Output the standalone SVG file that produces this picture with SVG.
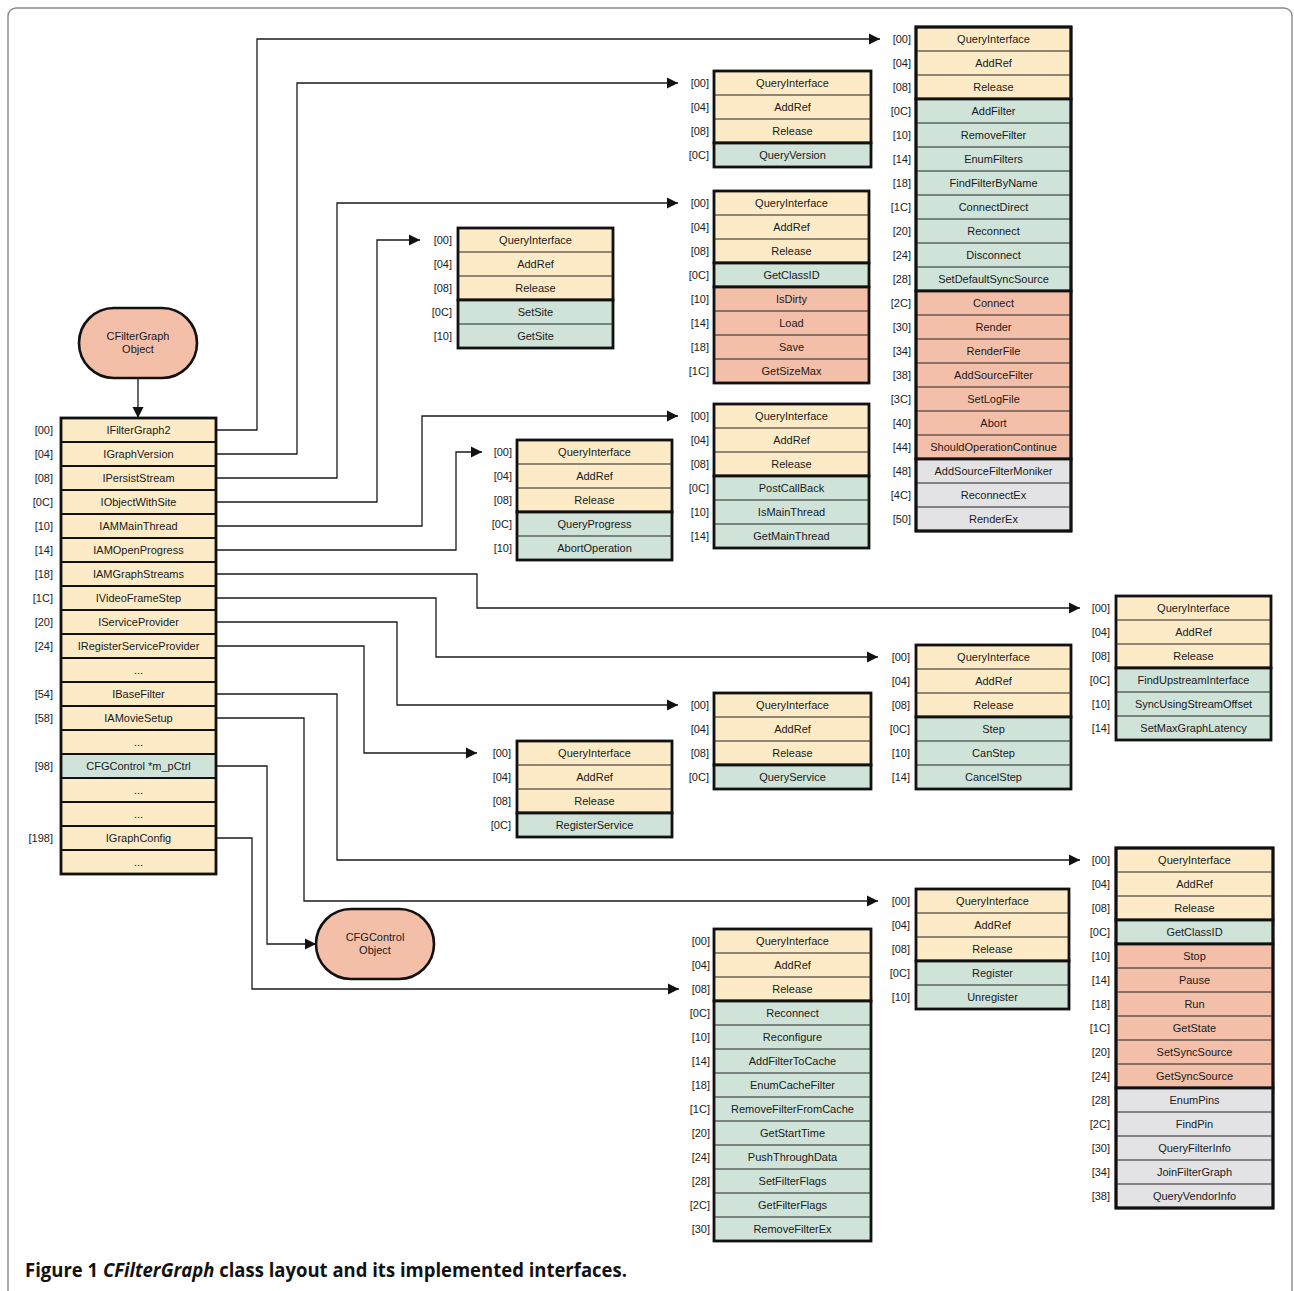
<svg xmlns="http://www.w3.org/2000/svg" width="1294" height="1291" viewBox="0 0 1294 1291">
<style>
.y{fill:#FCEBC6}.t{fill:#CFE3D9}.s{fill:#F4BFA9}.g{fill:#E3E3E5}
.grp{stroke:#111;stroke-width:2.8}
.sep{fill:none;stroke:#222;stroke-width:1.1}
.m{font-family:"Liberation Sans",Arial,sans-serif;font-size:11px;fill:#1a1a1a;text-anchor:middle}
.o{font-family:"Liberation Sans",Arial,sans-serif;font-size:11px;fill:#1a1a1a;text-anchor:end}
.wire{fill:none;stroke:#1a1a1a;stroke-width:1.3}
.obj{fill:#F4BFA9;stroke:#111;stroke-width:2.6}
.cell{stroke:#111;stroke-width:2}
</style>
<defs>
<marker id="arr" viewBox="0 0 10 10" refX="10" refY="5" markerWidth="11" markerHeight="12" markerUnits="userSpaceOnUse" orient="auto">
<path d="M0,0L10,5L0,10z" fill="#111"/>
</marker>
</defs>
<rect x="8" y="8" width="1284" height="1320" rx="8" fill="#fff" stroke="#888" stroke-width="1.4"/>

<!-- connectors from the object layout to the interface vtables -->
<g id="connectors">
<path class="wire" marker-end="url(#arr)" d="M216 430H257V39H880"/>
<path class="wire" marker-end="url(#arr)" d="M216 454H297V83H678"/>
<path class="wire" marker-end="url(#arr)" d="M216 478H337V203H678"/>
<path class="wire" marker-end="url(#arr)" d="M216 502H377V240H420"/>
<path class="wire" marker-end="url(#arr)" d="M216 526H422V416H678"/>
<path class="wire" marker-end="url(#arr)" d="M216 550H456V452H482"/>
<path class="wire" marker-end="url(#arr)" d="M216 574H477V608H1080"/>
<path class="wire" marker-end="url(#arr)" d="M216 598H436V657H878"/>
<path class="wire" marker-end="url(#arr)" d="M216 622H397V705H678"/>
<path class="wire" marker-end="url(#arr)" d="M216 646H364V753H477"/>
<path class="wire" marker-end="url(#arr)" d="M216 694H337V860H1080"/>
<path class="wire" marker-end="url(#arr)" d="M216 718H304V901H878"/>
<path class="wire" marker-end="url(#arr)" d="M216 766H267V944H316"/>
<path class="wire" marker-end="url(#arr)" d="M216 838H252V989H679"/>
<path class="wire" marker-end="url(#arr)" d="M138 378V418"/>
</g>

<g id="cfiltergraph-object">
<rect class="obj" x="79" y="308" width="118" height="70" rx="35"/>
<text class="m" x="138" y="340">CFilterGraph</text>
<text class="m" x="138" y="353">Object</text>
</g>

<g id="cfgcontrol-object">
<rect class="obj" x="316" y="909" width="118" height="70" rx="35"/>
<text class="m" x="375" y="941">CFGControl</text>
<text class="m" x="375" y="954">Object</text>
</g>

<!-- CFilterGraph object layout -->
<g id="cfiltergraph-layout">
<rect class="y cell" x="61" y="418" width="155" height="24"/>
<rect class="y cell" x="61" y="442" width="155" height="24"/>
<rect class="y cell" x="61" y="466" width="155" height="24"/>
<rect class="y cell" x="61" y="490" width="155" height="24"/>
<rect class="y cell" x="61" y="514" width="155" height="24"/>
<rect class="y cell" x="61" y="538" width="155" height="24"/>
<rect class="y cell" x="61" y="562" width="155" height="24"/>
<rect class="y cell" x="61" y="586" width="155" height="24"/>
<rect class="y cell" x="61" y="610" width="155" height="24"/>
<rect class="y cell" x="61" y="634" width="155" height="24"/>
<rect class="y cell" x="61" y="658" width="155" height="24"/>
<rect class="y cell" x="61" y="682" width="155" height="24"/>
<rect class="y cell" x="61" y="706" width="155" height="24"/>
<rect class="y cell" x="61" y="730" width="155" height="24"/>
<rect class="t cell" x="61" y="754" width="155" height="24"/>
<rect class="y cell" x="61" y="778" width="155" height="24"/>
<rect class="y cell" x="61" y="802" width="155" height="24"/>
<rect class="y cell" x="61" y="826" width="155" height="24"/>
<rect class="y cell" x="61" y="850" width="155" height="24"/>
<rect class="grp" fill="none" x="61" y="418" width="155" height="456"/>
<text class="m" x="138.5" y="434">IFilterGraph2</text>
<text class="m" x="138.5" y="458">IGraphVersion</text>
<text class="m" x="138.5" y="482">IPersistStream</text>
<text class="m" x="138.5" y="506">IObjectWithSite</text>
<text class="m" x="138.5" y="530">IAMMainThread</text>
<text class="m" x="138.5" y="554">IAMOpenProgress</text>
<text class="m" x="138.5" y="578">IAMGraphStreams</text>
<text class="m" x="138.5" y="602">IVideoFrameStep</text>
<text class="m" x="138.5" y="626">IServiceProvider</text>
<text class="m" x="138.5" y="650">IRegisterServiceProvider</text>
<text class="m" x="138.5" y="674">...</text>
<text class="m" x="138.5" y="698">IBaseFilter</text>
<text class="m" x="138.5" y="722">IAMovieSetup</text>
<text class="m" x="138.5" y="746">...</text>
<text class="m" x="138.5" y="770">CFGControl *m_pCtrl</text>
<text class="m" x="138.5" y="794">...</text>
<text class="m" x="138.5" y="818">...</text>
<text class="m" x="138.5" y="842">IGraphConfig</text>
<text class="m" x="138.5" y="866">...</text>
<text class="o" x="53" y="434">[00]</text>
<text class="o" x="53" y="458">[04]</text>
<text class="o" x="53" y="482">[08]</text>
<text class="o" x="53" y="506">[0C]</text>
<text class="o" x="53" y="530">[10]</text>
<text class="o" x="53" y="554">[14]</text>
<text class="o" x="53" y="578">[18]</text>
<text class="o" x="53" y="602">[1C]</text>
<text class="o" x="53" y="626">[20]</text>
<text class="o" x="53" y="650">[24]</text>
<text class="o" x="53" y="698">[54]</text>
<text class="o" x="53" y="722">[58]</text>
<text class="o" x="53" y="770">[98]</text>
<text class="o" x="53" y="842">[198]</text>
</g>

<!-- IFilterGraph2 vtable -->
<g id="ifiltergraph2">
<rect class="y grp" x="916" y="27" width="155" height="72"/>
<rect class="t grp" x="916" y="99" width="155" height="192"/>
<rect class="s grp" x="916" y="291" width="155" height="168"/>
<rect class="g grp" x="916" y="459" width="155" height="72"/>
<path class="sep" d="M916 51h155M916 75h155M916 123h155M916 147h155M916 171h155M916 195h155M916 219h155M916 243h155M916 267h155M916 315h155M916 339h155M916 363h155M916 387h155M916 411h155M916 435h155M916 483h155M916 507h155"/>
<rect class="grp" fill="none" x="916" y="27" width="155" height="504"/>
<text class="m" x="993.5" y="43">QueryInterface</text>
<text class="m" x="993.5" y="67">AddRef</text>
<text class="m" x="993.5" y="91">Release</text>
<text class="m" x="993.5" y="115">AddFilter</text>
<text class="m" x="993.5" y="139">RemoveFilter</text>
<text class="m" x="993.5" y="163">EnumFilters</text>
<text class="m" x="993.5" y="187">FindFilterByName</text>
<text class="m" x="993.5" y="211">ConnectDirect</text>
<text class="m" x="993.5" y="235">Reconnect</text>
<text class="m" x="993.5" y="259">Disconnect</text>
<text class="m" x="993.5" y="283">SetDefaultSyncSource</text>
<text class="m" x="993.5" y="307">Connect</text>
<text class="m" x="993.5" y="331">Render</text>
<text class="m" x="993.5" y="355">RenderFile</text>
<text class="m" x="993.5" y="379">AddSourceFilter</text>
<text class="m" x="993.5" y="403">SetLogFile</text>
<text class="m" x="993.5" y="427">Abort</text>
<text class="m" x="993.5" y="451">ShouldOperationContinue</text>
<text class="m" x="993.5" y="475">AddSourceFilterMoniker</text>
<text class="m" x="993.5" y="499">ReconnectEx</text>
<text class="m" x="993.5" y="523">RenderEx</text>
<text class="o" x="911" y="43">[00]</text>
<text class="o" x="911" y="67">[04]</text>
<text class="o" x="911" y="91">[08]</text>
<text class="o" x="911" y="115">[0C]</text>
<text class="o" x="911" y="139">[10]</text>
<text class="o" x="911" y="163">[14]</text>
<text class="o" x="911" y="187">[18]</text>
<text class="o" x="911" y="211">[1C]</text>
<text class="o" x="911" y="235">[20]</text>
<text class="o" x="911" y="259">[24]</text>
<text class="o" x="911" y="283">[28]</text>
<text class="o" x="911" y="307">[2C]</text>
<text class="o" x="911" y="331">[30]</text>
<text class="o" x="911" y="355">[34]</text>
<text class="o" x="911" y="379">[38]</text>
<text class="o" x="911" y="403">[3C]</text>
<text class="o" x="911" y="427">[40]</text>
<text class="o" x="911" y="451">[44]</text>
<text class="o" x="911" y="475">[48]</text>
<text class="o" x="911" y="499">[4C]</text>
<text class="o" x="911" y="523">[50]</text>
</g>

<!-- IGraphVersion vtable -->
<g id="igraphversion">
<rect class="y grp" x="714" y="71" width="157" height="72"/>
<rect class="t grp" x="714" y="143" width="157" height="24"/>
<path class="sep" d="M714 95h157M714 119h157"/>
<text class="m" x="792.5" y="87">QueryInterface</text>
<text class="m" x="792.5" y="111">AddRef</text>
<text class="m" x="792.5" y="135">Release</text>
<text class="m" x="792.5" y="159">QueryVersion</text>
<text class="o" x="709" y="87">[00]</text>
<text class="o" x="709" y="111">[04]</text>
<text class="o" x="709" y="135">[08]</text>
<text class="o" x="709" y="159">[0C]</text>
</g>

<!-- IPersistStream vtable -->
<g id="ipersiststream">
<rect class="y grp" x="714" y="191" width="155" height="72"/>
<rect class="t grp" x="714" y="263" width="155" height="24"/>
<rect class="s grp" x="714" y="287" width="155" height="96"/>
<path class="sep" d="M714 215h155M714 239h155M714 311h155M714 335h155M714 359h155"/>
<text class="m" x="791.5" y="207">QueryInterface</text>
<text class="m" x="791.5" y="231">AddRef</text>
<text class="m" x="791.5" y="255">Release</text>
<text class="m" x="791.5" y="279">GetClassID</text>
<text class="m" x="791.5" y="303">IsDirty</text>
<text class="m" x="791.5" y="327">Load</text>
<text class="m" x="791.5" y="351">Save</text>
<text class="m" x="791.5" y="375">GetSizeMax</text>
<text class="o" x="709" y="207">[00]</text>
<text class="o" x="709" y="231">[04]</text>
<text class="o" x="709" y="255">[08]</text>
<text class="o" x="709" y="279">[0C]</text>
<text class="o" x="709" y="303">[10]</text>
<text class="o" x="709" y="327">[14]</text>
<text class="o" x="709" y="351">[18]</text>
<text class="o" x="709" y="375">[1C]</text>
</g>

<!-- IObjectWithSite vtable -->
<g id="iobjectwithsite">
<rect class="y grp" x="458" y="228" width="155" height="72"/>
<rect class="t grp" x="458" y="300" width="155" height="48"/>
<path class="sep" d="M458 252h155M458 276h155M458 324h155"/>
<text class="m" x="535.5" y="244">QueryInterface</text>
<text class="m" x="535.5" y="268">AddRef</text>
<text class="m" x="535.5" y="292">Release</text>
<text class="m" x="535.5" y="316">SetSite</text>
<text class="m" x="535.5" y="340">GetSite</text>
<text class="o" x="452" y="244">[00]</text>
<text class="o" x="452" y="268">[04]</text>
<text class="o" x="452" y="292">[08]</text>
<text class="o" x="452" y="316">[0C]</text>
<text class="o" x="452" y="340">[10]</text>
</g>

<!-- IAMMainThread vtable -->
<g id="iammainthread">
<rect class="y grp" x="714" y="404" width="155" height="72"/>
<rect class="t grp" x="714" y="476" width="155" height="72"/>
<path class="sep" d="M714 428h155M714 452h155M714 500h155M714 524h155"/>
<text class="m" x="791.5" y="420">QueryInterface</text>
<text class="m" x="791.5" y="444">AddRef</text>
<text class="m" x="791.5" y="468">Release</text>
<text class="m" x="791.5" y="492">PostCallBack</text>
<text class="m" x="791.5" y="516">IsMainThread</text>
<text class="m" x="791.5" y="540">GetMainThread</text>
<text class="o" x="709" y="420">[00]</text>
<text class="o" x="709" y="444">[04]</text>
<text class="o" x="709" y="468">[08]</text>
<text class="o" x="709" y="492">[0C]</text>
<text class="o" x="709" y="516">[10]</text>
<text class="o" x="709" y="540">[14]</text>
</g>

<!-- IAMOpenProgress vtable -->
<g id="iamopenprogress">
<rect class="y grp" x="517" y="440" width="155" height="72"/>
<rect class="t grp" x="517" y="512" width="155" height="48"/>
<path class="sep" d="M517 464h155M517 488h155M517 536h155"/>
<text class="m" x="594.5" y="456">QueryInterface</text>
<text class="m" x="594.5" y="480">AddRef</text>
<text class="m" x="594.5" y="504">Release</text>
<text class="m" x="594.5" y="528">QueryProgress</text>
<text class="m" x="594.5" y="552">AbortOperation</text>
<text class="o" x="512" y="456">[00]</text>
<text class="o" x="512" y="480">[04]</text>
<text class="o" x="512" y="504">[08]</text>
<text class="o" x="512" y="528">[0C]</text>
<text class="o" x="512" y="552">[10]</text>
</g>

<!-- IAMGraphStreams vtable -->
<g id="iamgraphstreams">
<rect class="y grp" x="1116" y="596" width="155" height="72"/>
<rect class="t grp" x="1116" y="668" width="155" height="72"/>
<path class="sep" d="M1116 620h155M1116 644h155M1116 692h155M1116 716h155"/>
<text class="m" x="1193.5" y="612">QueryInterface</text>
<text class="m" x="1193.5" y="636">AddRef</text>
<text class="m" x="1193.5" y="660">Release</text>
<text class="m" x="1193.5" y="684">FindUpstreamInterface</text>
<text class="m" x="1193.5" y="708">SyncUsingStreamOffset</text>
<text class="m" x="1193.5" y="732">SetMaxGraphLatency</text>
<text class="o" x="1110" y="612">[00]</text>
<text class="o" x="1110" y="636">[04]</text>
<text class="o" x="1110" y="660">[08]</text>
<text class="o" x="1110" y="684">[0C]</text>
<text class="o" x="1110" y="708">[10]</text>
<text class="o" x="1110" y="732">[14]</text>
</g>

<!-- IVideoFrameStep vtable -->
<g id="ivideoframestep">
<rect class="y grp" x="916" y="645" width="155" height="72"/>
<rect class="t grp" x="916" y="717" width="155" height="72"/>
<path class="sep" d="M916 669h155M916 693h155M916 741h155M916 765h155"/>
<text class="m" x="993.5" y="661">QueryInterface</text>
<text class="m" x="993.5" y="685">AddRef</text>
<text class="m" x="993.5" y="709">Release</text>
<text class="m" x="993.5" y="733">Step</text>
<text class="m" x="993.5" y="757">CanStep</text>
<text class="m" x="993.5" y="781">CancelStep</text>
<text class="o" x="910" y="661">[00]</text>
<text class="o" x="910" y="685">[04]</text>
<text class="o" x="910" y="709">[08]</text>
<text class="o" x="910" y="733">[0C]</text>
<text class="o" x="910" y="757">[10]</text>
<text class="o" x="910" y="781">[14]</text>
</g>

<!-- IServiceProvider vtable -->
<g id="iserviceprovider">
<rect class="y grp" x="714" y="693" width="157" height="72"/>
<rect class="t grp" x="714" y="765" width="157" height="24"/>
<path class="sep" d="M714 717h157M714 741h157"/>
<text class="m" x="792.5" y="709">QueryInterface</text>
<text class="m" x="792.5" y="733">AddRef</text>
<text class="m" x="792.5" y="757">Release</text>
<text class="m" x="792.5" y="781">QueryService</text>
<text class="o" x="709" y="709">[00]</text>
<text class="o" x="709" y="733">[04]</text>
<text class="o" x="709" y="757">[08]</text>
<text class="o" x="709" y="781">[0C]</text>
</g>

<!-- IRegisterServiceProvider vtable -->
<g id="iregisterserviceprovider">
<rect class="y grp" x="517" y="741" width="155" height="72"/>
<rect class="t grp" x="517" y="813" width="155" height="24"/>
<path class="sep" d="M517 765h155M517 789h155"/>
<text class="m" x="594.5" y="757">QueryInterface</text>
<text class="m" x="594.5" y="781">AddRef</text>
<text class="m" x="594.5" y="805">Release</text>
<text class="m" x="594.5" y="829">RegisterService</text>
<text class="o" x="511" y="757">[00]</text>
<text class="o" x="511" y="781">[04]</text>
<text class="o" x="511" y="805">[08]</text>
<text class="o" x="511" y="829">[0C]</text>
</g>

<!-- IBaseFilter vtable -->
<g id="ibasefilter">
<rect class="y grp" x="1116" y="848" width="157" height="72"/>
<rect class="t grp" x="1116" y="920" width="157" height="24"/>
<rect class="s grp" x="1116" y="944" width="157" height="144"/>
<rect class="g grp" x="1116" y="1088" width="157" height="120"/>
<path class="sep" d="M1116 872h157M1116 896h157M1116 968h157M1116 992h157M1116 1016h157M1116 1040h157M1116 1064h157M1116 1112h157M1116 1136h157M1116 1160h157M1116 1184h157"/>
<rect class="grp" fill="none" x="1116" y="848" width="157" height="360"/>
<text class="m" x="1194.5" y="864">QueryInterface</text>
<text class="m" x="1194.5" y="888">AddRef</text>
<text class="m" x="1194.5" y="912">Release</text>
<text class="m" x="1194.5" y="936">GetClassID</text>
<text class="m" x="1194.5" y="960">Stop</text>
<text class="m" x="1194.5" y="984">Pause</text>
<text class="m" x="1194.5" y="1008">Run</text>
<text class="m" x="1194.5" y="1032">GetState</text>
<text class="m" x="1194.5" y="1056">SetSyncSource</text>
<text class="m" x="1194.5" y="1080">GetSyncSource</text>
<text class="m" x="1194.5" y="1104">EnumPins</text>
<text class="m" x="1194.5" y="1128">FindPin</text>
<text class="m" x="1194.5" y="1152">QueryFilterInfo</text>
<text class="m" x="1194.5" y="1176">JoinFilterGraph</text>
<text class="m" x="1194.5" y="1200">QueryVendorInfo</text>
<text class="o" x="1110" y="864">[00]</text>
<text class="o" x="1110" y="888">[04]</text>
<text class="o" x="1110" y="912">[08]</text>
<text class="o" x="1110" y="936">[0C]</text>
<text class="o" x="1110" y="960">[10]</text>
<text class="o" x="1110" y="984">[14]</text>
<text class="o" x="1110" y="1008">[18]</text>
<text class="o" x="1110" y="1032">[1C]</text>
<text class="o" x="1110" y="1056">[20]</text>
<text class="o" x="1110" y="1080">[24]</text>
<text class="o" x="1110" y="1104">[28]</text>
<text class="o" x="1110" y="1128">[2C]</text>
<text class="o" x="1110" y="1152">[30]</text>
<text class="o" x="1110" y="1176">[34]</text>
<text class="o" x="1110" y="1200">[38]</text>
</g>

<!-- IAMovieSetup vtable -->
<g id="iamoviesetup">
<rect class="y grp" x="916" y="889" width="153" height="72"/>
<rect class="t grp" x="916" y="961" width="153" height="48"/>
<path class="sep" d="M916 913h153M916 937h153M916 985h153"/>
<text class="m" x="992.5" y="905">QueryInterface</text>
<text class="m" x="992.5" y="929">AddRef</text>
<text class="m" x="992.5" y="953">Release</text>
<text class="m" x="992.5" y="977">Register</text>
<text class="m" x="992.5" y="1001">Unregister</text>
<text class="o" x="910" y="905">[00]</text>
<text class="o" x="910" y="929">[04]</text>
<text class="o" x="910" y="953">[08]</text>
<text class="o" x="910" y="977">[0C]</text>
<text class="o" x="910" y="1001">[10]</text>
</g>

<!-- IGraphConfig vtable -->
<g id="igraphconfig">
<rect class="y grp" x="714" y="929" width="157" height="72"/>
<rect class="t grp" x="714" y="1001" width="157" height="240"/>
<path class="sep" d="M714 953h157M714 977h157M714 1025h157M714 1049h157M714 1073h157M714 1097h157M714 1121h157M714 1145h157M714 1169h157M714 1193h157M714 1217h157"/>
<text class="m" x="792.5" y="945">QueryInterface</text>
<text class="m" x="792.5" y="969">AddRef</text>
<text class="m" x="792.5" y="993">Release</text>
<text class="m" x="792.5" y="1017">Reconnect</text>
<text class="m" x="792.5" y="1041">Reconfigure</text>
<text class="m" x="792.5" y="1065">AddFilterToCache</text>
<text class="m" x="792.5" y="1089">EnumCacheFilter</text>
<text class="m" x="792.5" y="1113">RemoveFilterFromCache</text>
<text class="m" x="792.5" y="1137">GetStartTime</text>
<text class="m" x="792.5" y="1161">PushThroughData</text>
<text class="m" x="792.5" y="1185">SetFilterFlags</text>
<text class="m" x="792.5" y="1209">GetFilterFlags</text>
<text class="m" x="792.5" y="1233">RemoveFilterEx</text>
<text class="o" x="710" y="945">[00]</text>
<text class="o" x="710" y="969">[04]</text>
<text class="o" x="710" y="993">[08]</text>
<text class="o" x="710" y="1017">[0C]</text>
<text class="o" x="710" y="1041">[10]</text>
<text class="o" x="710" y="1065">[14]</text>
<text class="o" x="710" y="1089">[18]</text>
<text class="o" x="710" y="1113">[1C]</text>
<text class="o" x="710" y="1137">[20]</text>
<text class="o" x="710" y="1161">[24]</text>
<text class="o" x="710" y="1185">[28]</text>
<text class="o" x="710" y="1209">[2C]</text>
<text class="o" x="710" y="1233">[30]</text>
</g>

<text x="25" y="1277" font-family="'Open Sans','Liberation Sans',sans-serif" font-size="19" font-weight="bold" fill="#111" textLength="602" lengthAdjust="spacingAndGlyphs">Figure 1 <tspan font-style="italic">CFilterGraph</tspan> class layout and its implemented interfaces.</text>
</svg>
